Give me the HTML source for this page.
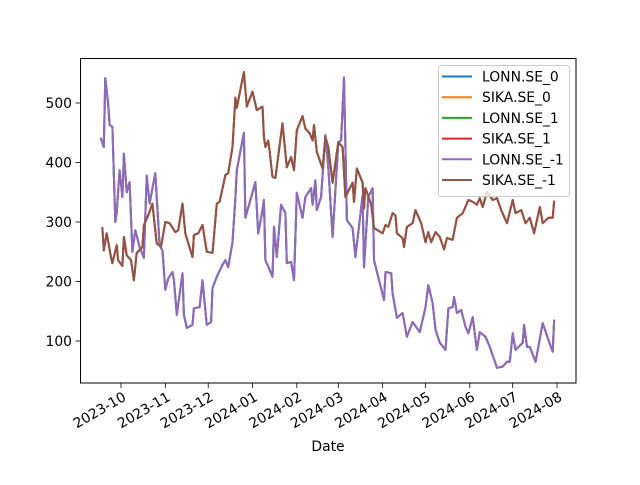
<!DOCTYPE html>
<html><head><meta charset="utf-8">
<style>
html,body{margin:0;padding:0;background:#fff;}
svg text{font-family:"DejaVu Sans","Liberation Sans",sans-serif;}
</style></head>
<body>
<svg id="chart" width="640" height="480" viewBox="0 0 640 480" xmlns="http://www.w3.org/2000/svg">
<rect x="0" y="0" width="640" height="480" fill="#fff"/>
<g id="plot"></g>
<rect x="80.5" y="58.5" width="495.5" height="324.5" fill="none" stroke="#000" stroke-width="1"/>
<g id="xticks"></g>
<g id="yticks"></g>
<text x="328" y="451" font-size="13.9" text-anchor="middle">Date</text>
<g id="legend"></g>
</svg>
<script>
// Data: days after 2023-10-01
const lonnDays = [-14,-12,-11,-9,-8,-6,-4,-3,-1,1,2,4,6,8,10,13,16,18,20,24,27,29,31,33,36,37,39,43,44,46,50,51,55,57,60,63,64,67,71,73,75,78,80,81,86,87,94,96,99,100,101,106,107,109,112,115,116,119,121,123,127,129,133,134,136,137,140,141,143,145,148,152,154,156,158,162,164,169,170,173,176,177,184,185,189,190,193,197,200,204,209,213,215,218,220,223,227,229,232,233,235,238,241,243,246,249,251,255,258,263,267,270,272,274,276,281,282,284,286,290,295,299,302,303];
const lonnValues = [440,426,542,500,463,460,300,315,387,342,415,350,367,250,286,258,240,378,331,382,261,252,186,205,216,203,144,214,144,122,127,155,157,202,127,132,189,208,228,236,224,266,340,387,450,307,367,281,320,337,236,208,292,241,329,315,231,233,202,349,307,342,357,329,370,320,342,379,446,392,275,434,437,543,303,290,241,345,224,342,357,236,169,216,214,180,139,147,107,132,115,157,194,164,119,97,85,155,157,174,147,152,124,113,140,85,115,107,90,55,57,65,65,113,85,97,127,90,90,65,130,102,82,134];
const sikaDays = [-13,-12,-10,-7,-6,-3,-2,1,2,4,7,9,11,15,16,19,22,25,28,31,34,38,40,43,45,50,51,54,57,60,64,67,69,73,75,78,80,81,86,88,92,95,99,100,101,103,104,106,108,113,116,119,121,123,127,129,132,134,135,137,141,143,145,148,152,155,157,162,163,165,169,170,171,175,177,183,185,187,190,192,193,197,198,200,204,206,210,213,215,217,220,223,226,228,232,235,239,243,246,249,251,253,256,260,263,266,270,274,276,280,283,286,289,293,295,299,302,303];
const sikaValues = [290,252,281,241,231,261,236,226,275,244,236,202,248,258,295,311,331,264,258,300,298,283,286,331,281,241,278,281,295,250,248,331,334,379,382,426,509,492,552,494,519,488,494,443,426,437,418,376,374,466,392,409,387,454,478,457,449,437,463,418,390,443,426,366,434,426,342,366,334,390,366,323,357,329,290,281,295,292,315,311,281,273,258,292,298,320,298,266,283,266,283,275,254,273,270,307,315,337,334,329,340,325,351,337,340,320,298,337,315,320,298,307,281,325,298,307,307,334];
const tickLabels = ["2023-10","2023-11","2023-12","2024-01","2024-02","2024-03","2024-04","2024-05","2024-06","2024-07","2024-08"];
const tickDays = [0,31,61,92,123,152,183,213,244,274,305];
const yTicks = [100,200,300,400,500];
const seriesNames = ["LONN.SE_0","SIKA.SE_0","LONN.SE_1","SIKA.SE_1","LONN.SE_-1","SIKA.SE_-1"];
const seriesColors = ["#1f77b4","#ff7f0e","#2ca02c","#d62728","#9467bd","#8c564b"];

const NS="http://www.w3.org/2000/svg";
function xs(d){return 121 + d*1.4295;}
function ys(v){return 400.5 - v*0.595;}
function mk(tag,attrs,parent){const e=document.createElementNS(NS,tag);for(const k in attrs)e.setAttribute(k,attrs[k]);parent.appendChild(e);return e;}

const plot=document.getElementById('plot');
seriesNames.forEach((name,i)=>{
  const isLonn = name.startsWith("LONN");
  const d = isLonn?lonnDays:sikaDays, v = isLonn?lonnValues:sikaValues;
  const pts = d.map((dd,j)=>xs(dd).toFixed(1)+","+ys(v[j]).toFixed(1)).join(" ");
  const pl = mk('polyline',{points:pts,fill:"none",stroke:seriesColors[i],"stroke-width":2,"stroke-linejoin":"round","stroke-linecap":"square"},plot);
  
  
});

const xt=document.getElementById('xticks');
tickDays.forEach((d,i)=>{
  const x=xs(d);
  const t=mk('line',{x1:x,y1:383,x2:x,y2:388,stroke:"#000","stroke-width":0.8},xt);
  
  
  const lb=mk('text',{x:x+1,y:391,"font-size":13.9,"text-anchor":"end",transform:"rotate(-30 "+(x+1)+" 391)",dy:"0.72em"},xt);
  lb.textContent=tickLabels[i];
  
  
});
const yt=document.getElementById('yticks');
yTicks.forEach(v=>{
  const y=ys(v);
  const t=mk('line',{x1:75.5,y1:y,x2:80.5,y2:y,stroke:"#000","stroke-width":0.8},yt);
  
  
  const lb=mk('text',{x:72,y:y+5,"font-size":13.9,"text-anchor":"end"},yt);
  lb.textContent=v;
  
  
});

const lg=document.getElementById('legend');
const box=mk('rect',{x:438.5,y:65.5,width:131,height:131,rx:2.5,fill:"#fff","fill-opacity":0.8,stroke:"#ccc","stroke-width":1},lg);


seriesNames.forEach((name,i)=>{
  const y=76.5+i*20.7;
  const g=mk('g',{},lg);
  
  
  mk('line',{x1:442,y1:y,x2:472,y2:y,stroke:seriesColors[i],"stroke-width":2},g);
  const t=mk('text',{x:482,y:y+5,"font-size":13.9},g);
  t.textContent=name;
});
</script>
</body></html>
